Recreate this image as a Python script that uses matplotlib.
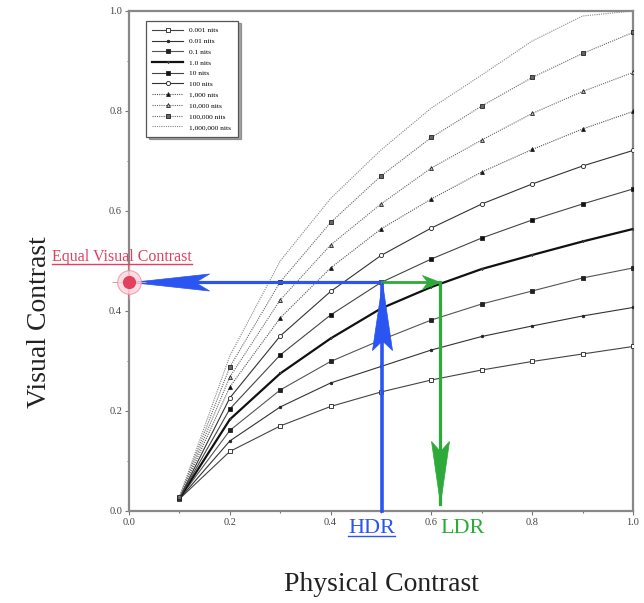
import matplotlib
matplotlib.use("Agg")
import matplotlib.pyplot as plt
import numpy as np
from matplotlib.path import Path
from matplotlib.markers import MarkerStyle
from matplotlib.transforms import Affine2D
from matplotlib.lines import Line2D

plt.rcParams['font.family'] = ['Liberation Serif', 'DejaVu Serif']

# data
x = [0.1, 0.2, 0.3, 0.4, 0.5, 0.6, 0.7, 0.8, 0.9, 1.0]
labels = ["0.001 nits", "0.01 nits", "0.1 nits", "1.0 nits", "10 nits", "100 nits",
          "1,000 nits", "10,000 nits", "100,000 nits", "1,000,000 nits"]
y_0001 = [0.024, 0.119, 0.170, 0.209, 0.238, 0.262, 0.282, 0.299, 0.314, 0.329]
y_001 = [0.024, 0.140, 0.208, 0.256, 0.289, 0.322, 0.349, 0.370, 0.390, 0.407]
y_01 = [0.025, 0.161, 0.242, 0.299, 0.342, 0.382, 0.414, 0.440, 0.466, 0.486]
y_1 = [0.025, 0.183, 0.275, 0.345, 0.405, 0.448, 0.484, 0.512, 0.539, 0.564]
y_10 = [0.026, 0.204, 0.312, 0.392, 0.457, 0.504, 0.546, 0.582, 0.614, 0.644]
y_100 = [0.026, 0.226, 0.350, 0.439, 0.511, 0.566, 0.614, 0.654, 0.690, 0.721]
y_1000 = [0.027, 0.248, 0.386, 0.486, 0.564, 0.624, 0.678, 0.723, 0.764, 0.799]
y_10000 = [0.027, 0.268, 0.422, 0.532, 0.614, 0.686, 0.742, 0.795, 0.839, 0.877]
y_100000 = [0.028, 0.288, 0.458, 0.577, 0.670, 0.747, 0.810, 0.867, 0.915, 0.957]
y_1000000 = [0.028, 0.310, 0.500, 0.625, 0.722, 0.806, 0.872, 0.940, 0.990, 1.000]
series = [y_0001, y_001, y_01, y_1, y_10, y_100, y_1000, y_10000, y_100000, y_1000000]

hdr_x = 0.502
ldr_x = 0.618
equal_y = 0.457
ldr_tip_y = 0.014

# line styles per curve
styles = [
    dict(color='#444444', lw=0.8, ls='-', marker='s', mfc='white', ms=2.6),
    dict(color='#333333', lw=0.8, ls='-', marker='o', mfc='#222222', ms=1.8),
    dict(color='#555555', lw=0.8, ls='-', marker='s', mfc='#222222', ms=2.6),
    dict(color='#111111', lw=1.6, ls='-', marker='v', mfc='#dddddd', ms=1.6),
    dict(color='#444444', lw=0.8, ls='-', marker='s', mfc='#111111', ms=3.0),
    dict(color='#333333', lw=0.8, ls='-', marker='o', mfc='white', ms=3.0),
    dict(color='#555555', lw=0.8, ls=(0, (1, 1)), marker='^', mfc='#111111', ms=2.8),
    dict(color='#666666', lw=0.8, ls=(0, (1, 1)), marker='^', mfc='#bbbbbb', ms=2.8),
    dict(color='#666666', lw=0.8, ls=(0, (1, 1)), marker='s', mfc='#666666', ms=2.8),
    dict(color='#888888', lw=0.8, ls=(0, (1, 1)), marker='None', mfc='none', ms=0),
]


def head(length_px, half_px, notch):
    w = half_px / length_px
    verts = [(0, 0), (-1, w), (-notch, 0), (-1, -w), (0, 0)]
    codes = [Path.MOVETO, Path.LINETO, Path.LINETO, Path.LINETO, Path.CLOSEPOLY]
    return Path(verts, codes), 2 * length_px * 0.72


def draw_head(ax, xt, yt, angle, length_px, half_px, notch, color):
    p, ms = head(length_px, half_px, notch)
    m = MarkerStyle(p, transform=Affine2D().rotate_deg(angle))
    ax.plot([xt], [yt], marker=m, ms=ms, color=color, mec=color, mew=0.5,
            ls='None', clip_on=False, zorder=6)


fig = plt.figure(figsize=(6.44, 6.03), dpi=100)
ax = fig.add_axes([0.2003, 0.1526, 0.7826, 0.8292])

for ys, lab, st in zip(series, labels, styles):
    ax.plot(x, ys, label=lab, color=st['color'], lw=st['lw'], ls=st['ls'],
            marker=st['marker'], mfc=st['mfc'], mec='#222222', mew=0.6,
            ms=st['ms'], zorder=3)

ax.set_xlim(0, 1)
ax.set_ylim(0, 1)
ax.set_xticks(np.arange(0, 1.01, 0.2))
ax.set_yticks(np.arange(0, 1.01, 0.2))
ax.set_xticks(np.arange(0, 1.01, 0.1), minor=True)
ax.set_yticks(np.arange(0, 1.01, 0.1), minor=True)
ax.tick_params(which='major', direction='out', length=3, width=0.8,
               colors='#777777', labelcolor='#444444', labelsize=7.5, pad=2)
ax.tick_params(which='minor', direction='out', length=1.5, width=0.8, colors='#777777')
for s in ax.spines.values():
    s.set_color('#888888')
    s.set_linewidth(1.6)

ax.set_xlabel("Physical Contrast", fontsize=20, color='#222222')
ax.xaxis.set_label_coords(0.5, -0.148)
ax.xaxis.label.set_va('center')
ax.set_ylabel("Visual Contrast", fontsize=20, color='#222222')
ax.yaxis.set_label_coords(-0.177, 0.378)
ax.yaxis.label.set_va('center')

leg = ax.legend(loc='upper left', bbox_to_anchor=(0.026, 0.988), prop={'size': 5.3},
                handlelength=4.2, labelspacing=0.62, borderpad=0.9, handletextpad=0.8,
                fancybox=False, shadow=True, edgecolor='#555555', framealpha=1)
leg.get_frame().set_linewidth(0.9)

# arrows
blue = '#2B55F0'
green = '#2EAA3A'
ax.plot([hdr_x, 0.004], [equal_y, equal_y], color=blue, lw=2.3, zorder=5, clip_on=False)
draw_head(ax, 0.004, equal_y, 180, 78, 8.5, 0.82, blue)
ax.plot([hdr_x, hdr_x], [0, equal_y], color=blue, lw=2.6, zorder=5, clip_on=False)
draw_head(ax, hdr_x, equal_y, 90, 68, 10, 0.86, blue)
ax.plot([hdr_x, ldr_x], [equal_y, equal_y], color=green, lw=2.0, zorder=5)
draw_head(ax, ldr_x, equal_y, 0, 18, 7, 0.7, green)
ax.plot([ldr_x, ldr_x], [equal_y, ldr_tip_y], color=green, lw=2.3, zorder=5)
draw_head(ax, ldr_x, ldr_tip_y, -90, 63, 9, 0.84, green)

# target marker at the y axis
red = '#E2405E'
ax.plot([0], [equal_y], marker='+', ms=24, mew=0.7, color='#F08FA0', ls='None',
        clip_on=False, zorder=7)
ax.plot([0], [equal_y], marker='o', ms=17, mfc='#FBD5DC', mec='#F08FA0', mew=0.8,
        alpha=0.8, ls='None', clip_on=False, zorder=7)
ax.plot([0], [equal_y], marker='o', ms=8.5, mfc=red, mec=red, ls='None',
        clip_on=False, zorder=8)

t_eq = ax.text(-0.153, 0.491, "Equal Visual Contrast", color=red, fontsize=11.5,
               ha='left', va='bottom', clip_on=False)
t_hdr = ax.text(0.482, -0.035, "HDR", color=blue, fontsize=16, ha='center',
                va='center', clip_on=False)
t_ldr = ax.text(0.662, -0.035, "LDR", color=green, fontsize=16, ha='center',
                va='center', clip_on=False)

# underline two of the labels
fig.canvas.draw()
r = fig.canvas.get_renderer()
for t, c in [(t_eq, red), (t_hdr, blue)]:
    bb = t.get_window_extent(r).transformed(fig.transFigure.inverted())
    yb = bb.y0 + 0.1 * bb.height
    fig.add_artist(Line2D([bb.x0, bb.x1], [yb, yb], color=c, lw=1.0))

fig.savefig("out.png", dpi=100)
